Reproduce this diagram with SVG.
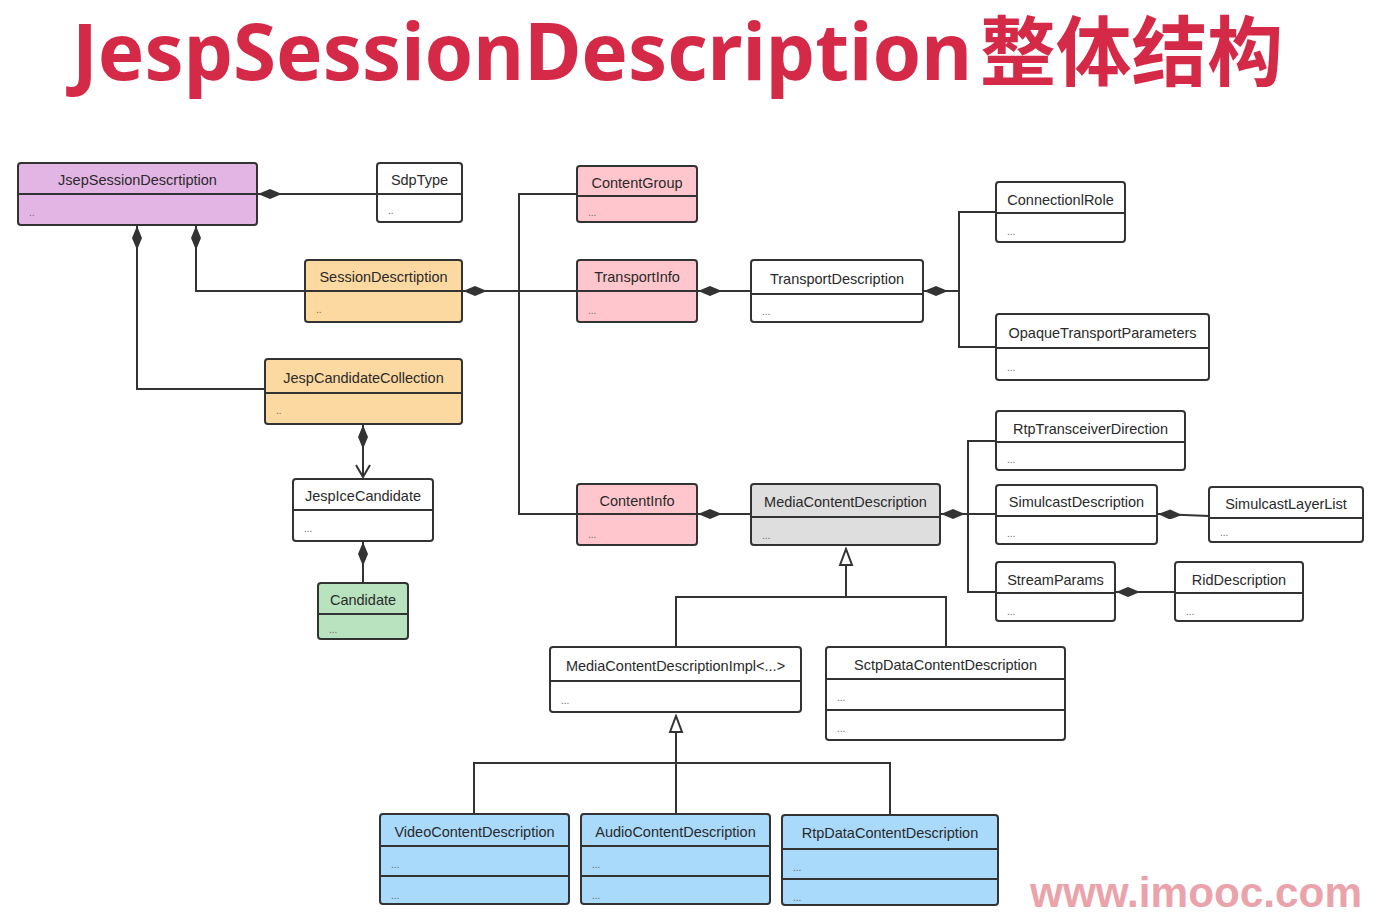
<svg xmlns="http://www.w3.org/2000/svg" width="1390" height="912" viewBox="0 0 1390 912">
<style>
  .box { stroke: #333; stroke-width: 2; }
  .div { stroke: #333; stroke-width: 2; fill: none; }
  .t { font-family: "Liberation Sans", Arial, sans-serif; font-size: 14.5px; fill: #2a2a2a; text-anchor: middle; }
  .d { font-family: "Liberation Sans", Arial, sans-serif; font-size: 10px; fill: #666; }
  .ln { stroke: #333; stroke-width: 2; fill: none; }
  .purple { fill: #e3b5e5; }
  .orange { fill: #fdd9a2; }
  .green { fill: #b9e3bf; }
  .pink { fill: #ffc6cd; }
  .gray { fill: #dedede; }
  .blue { fill: #a9d9fb; }
  .white { fill: #ffffff; }
</style>
<defs>
  <marker id="dia" viewBox="0 0 24 10" markerWidth="24" markerHeight="10" refX="0" refY="5" orient="auto" markerUnits="userSpaceOnUse">
    <path d="M0,5 L12,0 L24,5 L12,10 Z" fill="#333"/>
  </marker>
  <marker id="tri" viewBox="-2 -2 20 16" markerWidth="20" markerHeight="16" refX="16" refY="6" orient="auto" markerUnits="userSpaceOnUse">
    <path d="M0,0 L16,6 L0,12 Z" fill="#fff" stroke="#333" stroke-width="2"/>
  </marker>
  <marker id="arr" viewBox="-2 -2 16 18" markerWidth="16" markerHeight="18" refX="12" refY="7" orient="auto" markerUnits="userSpaceOnUse">
    <path d="M0,0 L12,7 L0,14" fill="none" stroke="#333" stroke-width="2"/>
  </marker>
</defs>
<rect width="1390" height="912" fill="#ffffff"/>

<g id="title">
  <text x="72" y="80" font-family="'Noto Sans', 'Liberation Sans', sans-serif" font-weight="bold" font-size="79" fill="#d42a48" textLength="900" lengthAdjust="spacingAndGlyphs">JespSessionDescription</text>
  <text x="980" y="80" font-family="'Noto Sans CJK SC', sans-serif" font-weight="bold" font-size="76" fill="#d42a48" textLength="303" lengthAdjust="spacingAndGlyphs">整体结构</text>
</g>

<g id="connectors">
  <path class="ln" d="M258,194 L377,194" marker-start="url(#dia)"/>
  <path class="ln" d="M196,226 L196,291 L305,291" marker-start="url(#dia)"/>
  <path class="ln" d="M137,226 L137,389 L265,389" marker-start="url(#dia)"/>
  <path class="ln" d="M463,291 L577,291" marker-start="url(#dia)"/>
  <path class="ln" d="M577,194 L519,194 L519,514 L577,514"/>
  <path class="ln" d="M698,291 L751,291" marker-start="url(#dia)"/>
  <path class="ln" d="M924,291 L959,291" marker-start="url(#dia)"/>
  <path class="ln" d="M996,212 L959,212 L959,347 L996,347"/>
  <path class="ln" d="M698,514 L751,514" marker-start="url(#dia)"/>
  <path class="ln" d="M941,514 L996,514" marker-start="url(#dia)"/>
  <path class="ln" d="M996,441 L968,441 L968,592 L996,592"/>
  <path class="ln" d="M1158,514 L1184,515 L1209,516" marker-start="url(#dia)"/>
  <path class="ln" d="M1116,592 L1175,592" marker-start="url(#dia)"/>
  <path class="ln" d="M363,425 L363,477" marker-start="url(#dia)" marker-end="url(#arr)"/>
  <path class="ln" d="M363,542 L363,583" marker-start="url(#dia)"/>
  <path class="ln" d="M676,647 L676,597 L946,597 L946,647"/>
  <path class="ln" d="M846,597 L846,549" marker-end="url(#tri)"/>
  <path class="ln" d="M474,814 L474,763 L890,763 L890,814"/>
  <path class="ln" d="M676,814 L676,716" marker-end="url(#tri)"/>
</g>

<g id="JsepSessionDescrtiption">
  <rect class="box purple" x="18" y="163" width="239" height="62" rx="3"/>
  <line class="div" x1="18" y1="194" x2="257" y2="194"/>
  <text class="t" x="137.5" y="185">JsepSessionDescrtiption</text>
  <text class="d" x="29" y="216">..</text>
</g>
<g id="SdpType">
  <rect class="box white" x="377" y="163" width="85" height="59" rx="3"/>
  <line class="div" x1="377" y1="194" x2="462" y2="194"/>
  <text class="t" x="419.5" y="185">SdpType</text>
  <text class="d" x="388" y="214">..</text>
</g>
<g id="SessionDescrtiption">
  <rect class="box orange" x="305" y="260" width="157" height="62" rx="3"/>
  <line class="div" x1="305" y1="291" x2="462" y2="291"/>
  <text class="t" x="383.5" y="282">SessionDescrtiption</text>
  <text class="d" x="316" y="313">..</text>
</g>
<g id="JespCandidateCollection">
  <rect class="box orange" x="265" y="359" width="197" height="65" rx="3"/>
  <line class="div" x1="265" y1="393" x2="462" y2="393"/>
  <text class="t" x="363.5" y="383">JespCandidateCollection</text>
  <text class="d" x="276" y="414">..</text>
</g>
<g id="JespIceCandidate">
  <rect class="box white" x="293" y="479" width="140" height="62" rx="3"/>
  <line class="div" x1="293" y1="510" x2="433" y2="510"/>
  <text class="t" x="363" y="501">JespIceCandidate</text>
  <text class="d" x="304" y="532">...</text>
</g>
<g id="Candidate">
  <rect class="box green" x="318" y="583" width="90" height="56" rx="3"/>
  <line class="div" x1="318" y1="614" x2="408" y2="614"/>
  <text class="t" x="363" y="605">Candidate</text>
  <text class="d" x="329" y="633">...</text>
</g>
<g id="ContentGroup">
  <rect class="box pink" x="577" y="166" width="120" height="56" rx="3"/>
  <line class="div" x1="577" y1="196" x2="697" y2="196"/>
  <text class="t" x="637" y="188">ContentGroup</text>
  <text class="d" x="588" y="216">...</text>
</g>
<g id="TransportInfo">
  <rect class="box pink" x="577" y="260" width="120" height="62" rx="3"/>
  <line class="div" x1="577" y1="291" x2="697" y2="291"/>
  <text class="t" x="637" y="282">TransportInfo</text>
  <text class="d" x="588" y="314">...</text>
</g>
<g id="ContentInfo">
  <rect class="box pink" x="577" y="484" width="120" height="61" rx="3"/>
  <line class="div" x1="577" y1="514" x2="697" y2="514"/>
  <text class="t" x="637" y="506">ContentInfo</text>
  <text class="d" x="588" y="538">...</text>
</g>
<g id="TransportDescription">
  <rect class="box white" x="751" y="260" width="172" height="62" rx="3"/>
  <line class="div" x1="751" y1="294" x2="923" y2="294"/>
  <text class="t" x="837" y="284">TransportDescription</text>
  <text class="d" x="762" y="315">...</text>
</g>
<g id="MediaContentDescription">
  <rect class="box gray" x="751" y="484" width="189" height="61" rx="3"/>
  <line class="div" x1="751" y1="517" x2="940" y2="517"/>
  <text class="t" x="845.5" y="507">MediaContentDescription</text>
  <text class="d" x="762" y="539">...</text>
</g>
<g id="ConnectionlRole">
  <rect class="box white" x="996" y="182" width="129" height="60" rx="3"/>
  <line class="div" x1="996" y1="213" x2="1125" y2="213"/>
  <text class="t" x="1060.5" y="205">ConnectionlRole</text>
  <text class="d" x="1007" y="235">...</text>
</g>
<g id="OpaqueTransportParameters">
  <rect class="box white" x="996" y="314" width="213" height="66" rx="3"/>
  <line class="div" x1="996" y1="348" x2="1209" y2="348"/>
  <text class="t" x="1102.5" y="338">OpaqueTransportParameters</text>
  <text class="d" x="1007" y="371">...</text>
</g>
<g id="RtpTransceiverDirection">
  <rect class="box white" x="996" y="411" width="189" height="59" rx="3"/>
  <line class="div" x1="996" y1="442" x2="1185" y2="442"/>
  <text class="t" x="1090.5" y="434">RtpTransceiverDirection</text>
  <text class="d" x="1007" y="463">...</text>
</g>
<g id="SimulcastDescription">
  <rect class="box white" x="996" y="485" width="161" height="59" rx="3"/>
  <line class="div" x1="996" y1="516" x2="1157" y2="516"/>
  <text class="t" x="1076.5" y="507">SimulcastDescription</text>
  <text class="d" x="1007" y="537">...</text>
</g>
<g id="SimulcastLayerList">
  <rect class="box white" x="1209" y="487" width="154" height="55" rx="3"/>
  <line class="div" x1="1209" y1="518" x2="1363" y2="518"/>
  <text class="t" x="1286" y="509">SimulcastLayerList</text>
  <text class="d" x="1220" y="536">...</text>
</g>
<g id="StreamParams">
  <rect class="box white" x="996" y="562" width="119" height="59" rx="3"/>
  <line class="div" x1="996" y1="593" x2="1115" y2="593"/>
  <text class="t" x="1055.5" y="585">StreamParams</text>
  <text class="d" x="1007" y="615">...</text>
</g>
<g id="RidDescription">
  <rect class="box white" x="1175" y="562" width="128" height="59" rx="3"/>
  <line class="div" x1="1175" y1="593" x2="1303" y2="593"/>
  <text class="t" x="1239" y="585">RidDescription</text>
  <text class="d" x="1186" y="615">...</text>
</g>
<g id="MediaContentDescriptionImpl">
  <rect class="box white" x="550" y="647" width="251" height="65" rx="3"/>
  <line class="div" x1="550" y1="681" x2="801" y2="681"/>
  <text class="t" x="675.5" y="671">MediaContentDescriptionImpl&lt;...&gt;</text>
  <text class="d" x="561" y="704">...</text>
</g>
<g id="SctpDataContentDescription">
  <rect class="box white" x="826" y="647" width="239" height="93" rx="3"/>
  <line class="div" x1="826" y1="679" x2="1065" y2="679"/>
  <line class="div" x1="826" y1="710" x2="1065" y2="710"/>
  <text class="t" x="945.5" y="670">SctpDataContentDescription</text>
  <text class="d" x="837" y="701">...</text>
  <text class="d" x="837" y="732">...</text>
</g>
<g id="VideoContentDescription">
  <rect class="box blue" x="380" y="814" width="189" height="90" rx="3"/>
  <line class="div" x1="380" y1="846" x2="569" y2="846"/>
  <line class="div" x1="380" y1="876" x2="569" y2="876"/>
  <text class="t" x="474.5" y="837">VideoContentDescription</text>
  <text class="d" x="391" y="868">...</text>
  <text class="d" x="391" y="899">...</text>
</g>
<g id="AudioContentDescription">
  <rect class="box blue" x="581" y="814" width="189" height="90" rx="3"/>
  <line class="div" x1="581" y1="846" x2="770" y2="846"/>
  <line class="div" x1="581" y1="876" x2="770" y2="876"/>
  <text class="t" x="675.5" y="837">AudioContentDescription</text>
  <text class="d" x="592" y="868">...</text>
  <text class="d" x="592" y="899">...</text>
</g>
<g id="RtpDataContentDescription">
  <rect class="box blue" x="782" y="815" width="216" height="90" rx="3"/>
  <line class="div" x1="782" y1="849" x2="998" y2="849"/>
  <line class="div" x1="782" y1="879" x2="998" y2="879"/>
  <text class="t" x="890" y="838">RtpDataContentDescription</text>
  <text class="d" x="793" y="871">...</text>
  <text class="d" x="793" y="901">...</text>
</g>

<g id="watermark">
  <text x="1030" y="907" font-family="'Liberation Sans', Arial, sans-serif" font-weight="bold" font-size="42" fill="#eba3ab" textLength="332" lengthAdjust="spacingAndGlyphs">www.imooc.com</text>
</g>
</svg>
